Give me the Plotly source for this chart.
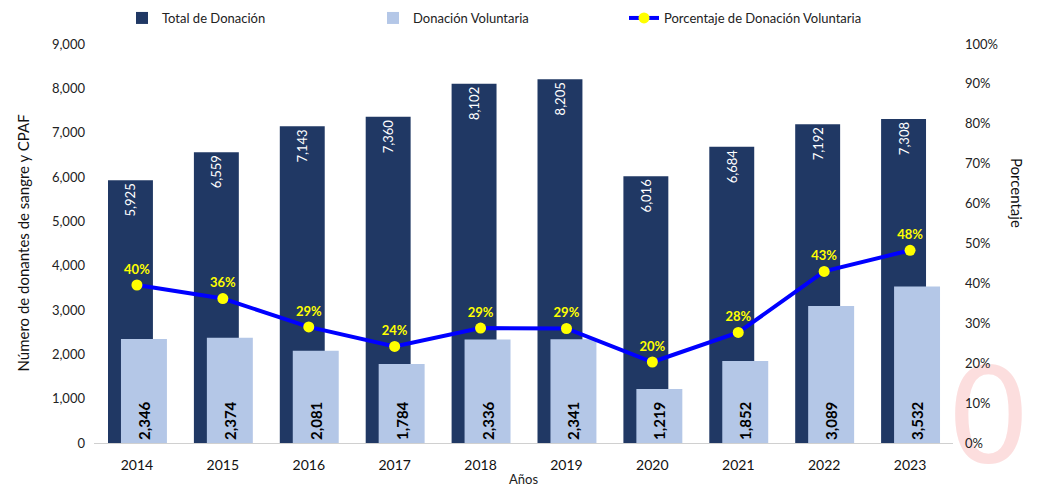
import plotly.graph_objects as go

years = ["2014", "2015", "2016", "2017", "2018", "2019", "2020", "2021", "2022", "2023"]
total = [5925, 6559, 7143, 7360, 8102, 8205, 6016, 6684, 7192, 7308]
voluntaria = [2346, 2374, 2081, 1784, 2336, 2341, 1219, 1852, 3089, 3532]
porcentaje = [0.396, 0.362, 0.291, 0.242, 0.288, 0.287, 0.203, 0.277, 0.430, 0.483]

FONT = "Lato, 'Open Sans', sans-serif"
NAVY = "#203864"
LIGHT = "#b4c7e7"

L, R, T, B = 94, 84, 44, 44
W, H = 1037, 487
PW, PH = W - L - R, H - T - B

fig = go.Figure()
fig.add_trace(go.Bar(
    x=years, y=total, name="Total de Donación",
    marker=dict(color=NAVY, line=dict(width=0)),
    offset=-0.337, width=0.523,
    text=[f"{v:,}" for v in total], textposition="inside", insidetextanchor="end",
    textangle=-90, textfont=dict(color="white", size=13, family=FONT),
))
fig.add_trace(go.Bar(
    x=years, y=voluntaria, name="Donación Voluntaria",
    marker=dict(color=LIGHT, line=dict(width=0)),
    offset=-0.186, width=0.535,
    text=[f"<b>{v:,}</b>" for v in voluntaria], textposition="inside", insidetextanchor="start",
    textangle=-90, textfont=dict(color="black", size=15, family=FONT),
))
fig.add_trace(go.Scatter(
    x=years, y=porcentaje, name="Porcentaje de Donación Voluntaria", yaxis="y2",
    mode="lines+markers+text",
    line=dict(color="#0000ff", width=4),
    marker=dict(color="#ffff00", size=11, line=dict(width=0)),
    text=[f"<b>{round(p*100)}%</b>" for p in porcentaje], textposition="top center",
    textfont=dict(color="#ffff00", size=13, family=FONT),
))

fig.update_layout(
    width=W, height=H,
    margin=dict(l=L, r=R, t=T, b=B, autoexpand=False),
    paper_bgcolor="white", plot_bgcolor="white",
    barmode="overlay",
    font=dict(family=FONT, color="#222", size=13),
    showlegend=True,
    legend=dict(orientation="h", x=(122 - L) / PW, xanchor="left", y=(H - B - 18) / PH, yanchor="middle",
                entrywidth=206, font=dict(size=13, color="#222"), traceorder="normal",
                bgcolor="rgba(0,0,0,0)"),
    xaxis=dict(type="category", range=[-0.5, 9.5], showgrid=False, showline=True,
               linecolor="#d0d0d0", linewidth=1,
               ticks="", tickfont=dict(size=14, color="#111"), automargin=False,
               ticklabelstandoff=9,
               title=dict(text="Años", font=dict(size=13, color="#222"), standoff=4)),
    yaxis=dict(range=[0, 9000], dtick=1000, tickformat=",", showgrid=False, zeroline=False,
               showline=False, tickfont=dict(size=13, color="#222"), ticklen=0,
               ticklabelstandoff=8, automargin=False),
    yaxis2=dict(range=[0, 1], dtick=0.1, tickformat=".0%", overlaying="y", side="right",
                showgrid=False, zeroline=False, showline=False, tickfont=dict(size=13, color="#222"),
                ticklabelstandoff=11, automargin=False),
    annotations=[
        dict(text="Porcentaje", textangle=90, xref="paper", yref="paper",
             x=(1017 - L) / PW, y=(H - B - 193) / PH, xanchor="center", yanchor="middle",
             showarrow=False, font=dict(size=15, color="#111")),
        dict(text="Número de donantes de sangre y CPAF", textangle=-90, xref="paper", yref="paper",
             x=(22 - L) / PW, y=0.5, xanchor="center", yanchor="middle",
             showarrow=False, font=dict(size=15, color="#111")),
    ],
    shapes=[dict(type="rect", xref="paper", yref="paper",
                 x0=(950 - L) / PW, x1=(1027 - L) / PW,
                 y0=(H - B - 454) / PH, y1=(H - B - 359) / PH,
                 line=dict(width=0), fillcolor="rgba(0,0,0,0)", layer="below",
                 label=dict(text="0", font=dict(size=132, color="#fcdede", family="DejaVu Sans"),
                            textposition="middle center"))],
)

fig.write_html("out.html", config={"displayModeBar": False},
               post_script="document.body.style.margin='0px';")
